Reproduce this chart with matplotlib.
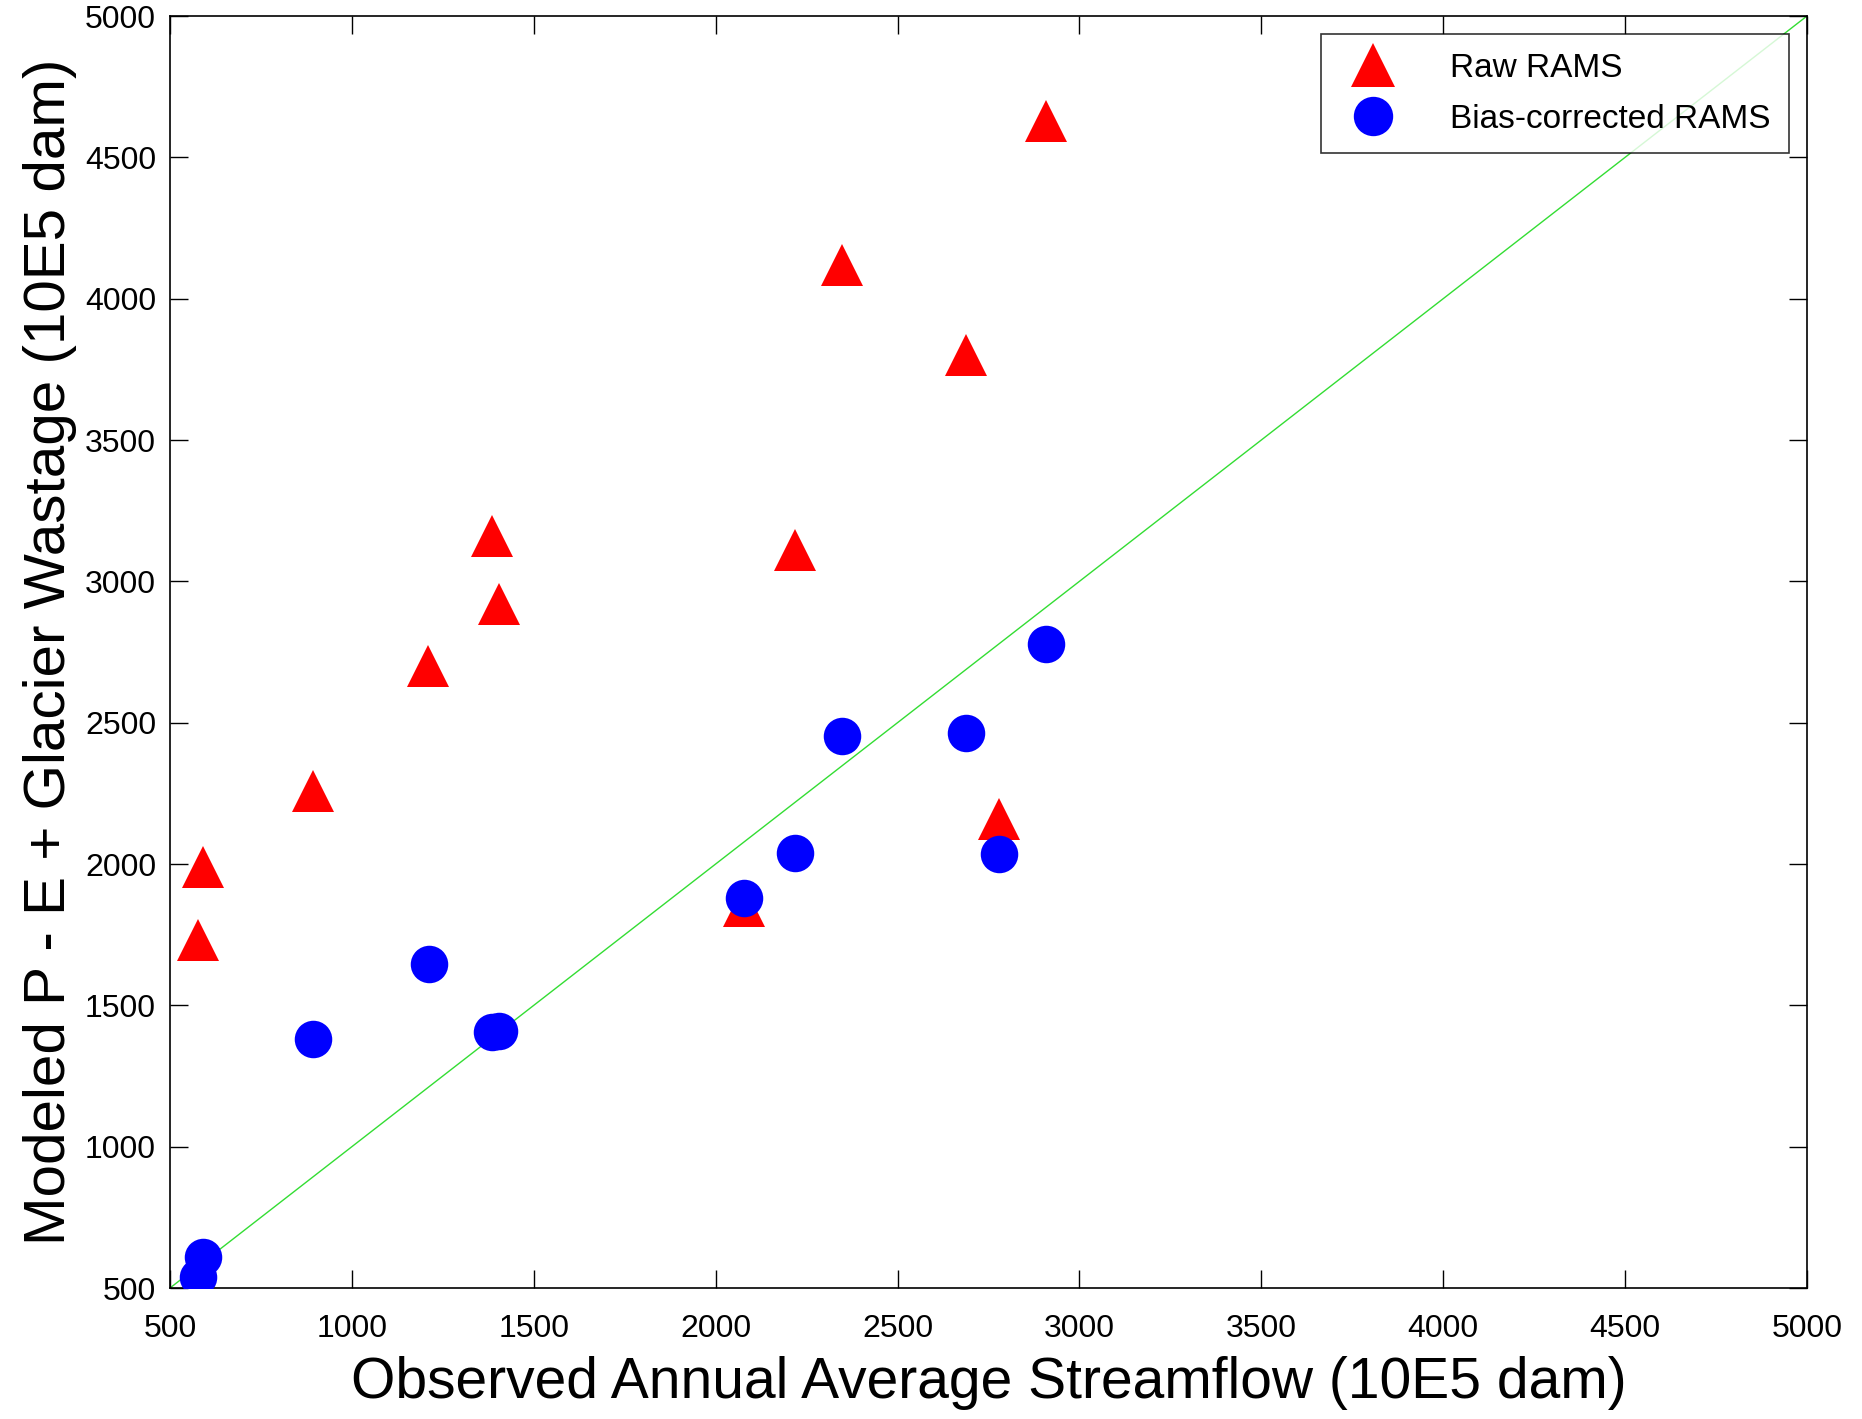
import matplotlib
matplotlib.use("Agg")
import matplotlib.pyplot as plt

obs = [2907, 2348, 2688, 1385, 1405, 2218, 1209, 892, 591, 578, 2780, 2077]
raw_rams = [4630, 4120, 3800, 3160, 2920, 3110, 2700, 2260, 1990, 1730, 2160, 1850]
obs_bc = [2907, 2348, 2688, 2218, 2780, 2077, 1212, 892, 1385, 1405, 591, 578]
bc_rams = [2777, 2453, 2465, 2040, 2036, 1880, 1645, 1380, 1405, 1410, 609, 538]
ticks = [500, 1000, 1500, 2000, 2500, 3000, 3500, 4000, 4500, 5000]

plt.rcParams['font.family'] = ['Liberation Sans', 'DejaVu Sans']

fig = plt.figure(figsize=(18.62, 14.19), dpi=100)
ax = fig.add_axes([170/1862, 1 - 1288/1419, (1807-170)/1862, (1288-16)/1419])

ax.plot([500, 5000], [500, 5000], color='#33dd33', lw=1.0, zorder=1)
ax.plot(obs, raw_rams, linestyle='none', marker='^', color='#ff0000',
        markersize=30, markeredgewidth=0, label='Raw RAMS', zorder=2)
ax.plot(obs_bc, bc_rams, linestyle='none', marker='o', color='#0000ff',
        markersize=27, markeredgewidth=0, label='Bias-corrected RAMS', zorder=3)

ax.set_xlim(500, 5000)
ax.set_ylim(500, 5000)
ax.set_xticks(ticks)
ax.set_yticks(ticks)
ax.tick_params(direction='in', length=13, width=1, top=True, right=True,
               labelsize=23)
ax.tick_params(axis='x', pad=19)
ax.tick_params(axis='y', pad=10)
for s in ax.spines.values():
    s.set_linewidth(1.2)

ax.set_xlabel('Observed Annual Average Streamflow (10E5 dam)', fontsize=41, labelpad=8)
ax.set_ylabel('Modeled P - E + Glacier Wastage (10E5 dam)', fontsize=42, labelpad=6)

leg = ax.legend(loc='upper right', fontsize=24, fancybox=False, frameon=True,
                edgecolor='black', borderpad=0.55, labelspacing=0.6,
                handletextpad=1.3, borderaxespad=0.55, markerscale=1.05,
                numpoints=1)
leg.get_frame().set_linewidth(1.2)

fig.savefig('out.png', dpi=100, facecolor='white')
